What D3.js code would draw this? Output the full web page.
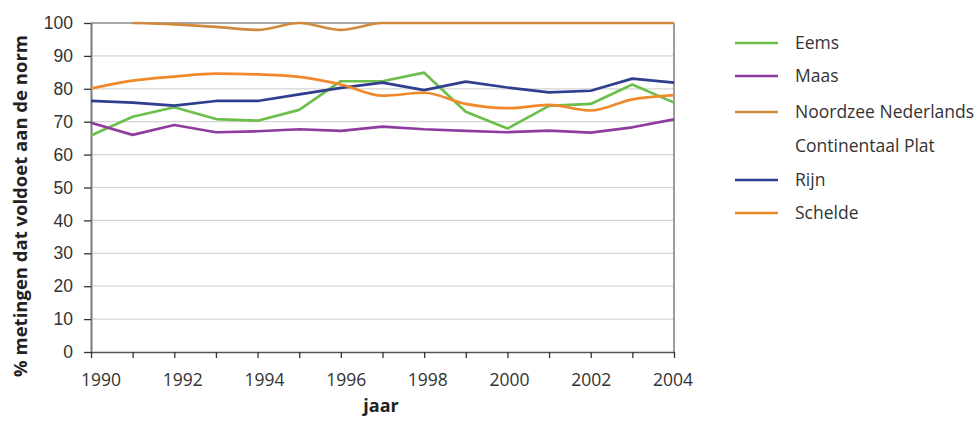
<!DOCTYPE html>
<html><head><meta charset="utf-8">
<script src="https://cdn.jsdelivr.net/npm/d3@7"></script>
<style>body{margin:0;background:#fff;} svg{display:block;font-family:"Open Sans",sans-serif;}</style>
</head><body>
<svg id="c" width="979" height="421"></svg>
<script>
const years = [1990,1991,1992,1993,1994,1995,1996,1997,1998,1999,2000,2001,2002,2003,2004];
const eems = [65.8,71.5,74.4,70.8,70.3,73.6,82.3,82.3,84.9,73.0,67.9,74.8,75.4,81.3,75.8];
const maas = [69.7,66.0,69.0,66.8,67.1,67.7,67.2,68.5,67.7,67.2,66.8,67.3,66.7,68.3,70.7];
const noordzee = [null,100,99.6,98.8,97.9,100,97.9,100,100,100,100,100,100,100,100];
const rijn = [76.3,75.8,74.9,76.3,76.3,78.3,80.3,81.9,79.6,82.2,80.4,78.9,79.4,83.1,81.9];
const schelde = [80.1,82.5,83.7,84.6,84.4,83.6,81.3,77.9,78.8,75.4,74.1,75.1,73.4,76.8,78.1];
const yTicks = [0,10,20,30,40,50,60,70,80,90,100];
const xTickLabels = [1990,1992,1994,1996,1998,2000,2002,2004];

const seriesDefs = [
  {name:"Eems", values:eems, color:"#6dbf4b", smooth:false},
  {name:"Maas", values:maas, color:"#8e3c9f", smooth:false},
  {name:"Noordzee Nederlands", values:noordzee, color:"#cf8a3f", smooth:true},
  {name:"Continentaal Plat", values:null, color:null},
  {name:"Rijn", values:rijn, color:"#2f3e8e", smooth:false},
  {name:"Schelde", values:schelde, color:"#f0892a", smooth:true}
];

const svg = d3.select("#c");
const x = d3.scaleLinear().domain([1990,2004]).range([91,674]);
const y = d3.scaleLinear().domain([0,100]).range([352,23]);
// label positions are slightly compressed towards the right in the original
const xl = d3.scaleLinear().domain([1990,2004]).range([x(1990)+10, x(2004)-1]);

// gridlines
svg.append("g").selectAll("line").data(yTicks.filter(d=>d>0 && d<100)).join("line")
  .attr("x1",x(1990)).attr("x2",x(2004)).attr("y1",d=>y(d)).attr("y2",d=>y(d))
  .attr("stroke","#d4d4d4").attr("stroke-width",1.2);
// top and right border
svg.append("line").attr("x1",x(1990)).attr("x2",x(2004)).attr("y1",y(100)).attr("y2",y(100))
  .attr("stroke","#8a8a8a").attr("stroke-width",1.5);
svg.append("line").attr("x1",x(2004)).attr("x2",x(2004)).attr("y1",y(100)).attr("y2",y(0))
  .attr("stroke","#7a7a7a").attr("stroke-width",1.5);

// y axis
const ya = svg.append("g").attr("transform",`translate(${x(1990)},0)`)
  .call(d3.axisLeft(y).tickValues(yTicks).tickSize(7).tickPadding(11).tickSizeOuter(0));
ya.select(".domain").attr("stroke","#7a7a7a").attr("stroke-width",2);
ya.selectAll(".tick line").attr("stroke","#333").attr("stroke-width",1.3);
ya.selectAll("text").attr("font-size",17.5).attr("fill","#333");

// x axis
const xa = svg.append("g").attr("transform",`translate(0,${y(0)})`)
  .call(d3.axisBottom(x).tickValues(years).tickSize(6).tickPadding(15).tickSizeOuter(0)
    .tickFormat(() => ""));
xa.select(".domain").attr("stroke","#555").attr("stroke-width",1.5);
xa.selectAll(".tick line").attr("stroke","#333").attr("stroke-width",1.3);
svg.append("g").selectAll("text").data(xTickLabels).join("text")
  .attr("x",d=>xl(d)).attr("y",y(0)+34).attr("text-anchor","middle")
  .attr("font-size",17.5).attr("fill","#333").text(d=>d);

// lines
seriesDefs.filter(s=>s.values).forEach(s=>{
  const line = d3.line().defined(d=>d.v!=null).x(d=>x(d.y)).y(d=>y(d.v))
    .curve(s.smooth ? d3.curveMonotoneX : d3.curveLinear);
  svg.append("path").datum(years.map((yr,i)=>({y:yr,v:s.values[i]})))
    .attr("d",line).attr("fill","none").attr("stroke",s.color).attr("stroke-width",2.7)
    .attr("stroke-linejoin","round");
});

// titles
svg.append("text").attr("x",381).attr("y",412).attr("text-anchor","middle")
  .attr("font-size",18).attr("font-weight","bold").attr("fill","#222").text("jaar");
svg.append("text").attr("transform","translate(27,206) rotate(-90)").attr("text-anchor","middle")
  .attr("font-size",18.5).attr("font-weight","bold").attr("fill","#222")
  .text("% metingen dat voldoet aan de norm");

// legend
const lg = svg.append("g");
const ly = [43,76,112,146,180,213];
seriesDefs.forEach((s,i)=>{
  if (s.color) lg.append("line").attr("x1",735).attr("x2",778).attr("y1",ly[i]).attr("y2",ly[i])
    .attr("stroke",s.color).attr("stroke-width",2.7);
  lg.append("text").attr("x",795).attr("y",ly[i]).attr("dy","0.35em")
    .attr("font-size",17.5).attr("fill","#333").text(s.name);
});
</script>
</body></html>
